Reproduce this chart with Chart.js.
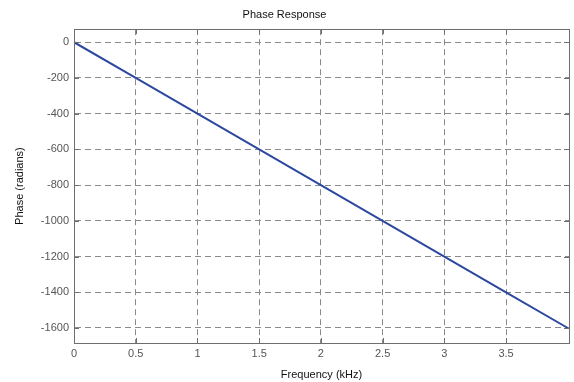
<!DOCTYPE html>
<html>
<head>
<meta charset="utf-8">
<script src="https://cdn.jsdelivr.net/npm/chart.js@4/dist/chart.umd.min.js"></script>
<style>
  html, body { margin: 0; padding: 0; background: #fff; }
  #wrap { width: 574px; height: 382px; }
</style>
</head>
<body>
<div id="wrap"><canvas id="phaseChart" width="574" height="382"></canvas></div>
<script>
// values
const freqKHz = [0, 0.5, 1, 1.5, 2, 2.5, 3, 3.5, 4];
const phaseRad = [0, -200, -400, -600, -800, -1000, -1200, -1400, -1600];
const xTicks = [0, 0.5, 1, 1.5, 2, 2.5, 3, 3.5];
const yTicks = [0, -200, -400, -600, -800, -1000, -1200, -1400, -1600];

const FONT = 'Liberation Sans, Arial, Helvetica, sans-serif';

// box round the plot with small inward ticks, matlab style
const boxPlugin = {
  id: 'boxPlugin',
  afterDatasetsDraw(chart) {
    const { ctx, chartArea: a, scales } = chart;
    ctx.save();
    ctx.strokeStyle = '#6e6e6e';
    ctx.lineWidth = 1;
    ctx.setLineDash([]);
    ctx.beginPath();
    xTicks.forEach(v => {
      const px = Math.round(scales.x.getPixelForValue(v)) + 0.5;
      ctx.moveTo(px, a.bottom); ctx.lineTo(px, a.bottom - 5);
      ctx.moveTo(px, a.top); ctx.lineTo(px, a.top + 5);
    });
    yTicks.forEach(v => {
      const py = Math.round(scales.y.getPixelForValue(v)) + 0.5;
      ctx.moveTo(a.left, py); ctx.lineTo(a.left + 5, py);
      ctx.moveTo(a.right, py); ctx.lineTo(a.right - 5, py);
    });
    ctx.stroke();
    ctx.strokeRect(Math.round(a.left) + 0.5, Math.round(a.top) + 0.5,
      Math.round(a.right - a.left), Math.round(a.bottom - a.top));
    ctx.restore();
  }
};

const ctx = document.getElementById('phaseChart').getContext('2d');
new Chart(ctx, {
  type: 'line',
  data: {
    datasets: [{
      data: freqKHz.map((f, i) => ({ x: f, y: phaseRad[i] })),
      borderColor: '#2c48a0',
      borderWidth: 2,
      pointRadius: 0,
      tension: 0,
      fill: false
    }]
  },
  options: {
    responsive: false,
    animation: false,
    layout: { padding: { left: 0, right: 5, top: 0, bottom: 0 } },
    plugins: {
      legend: { display: false },
      tooltip: { enabled: false },
      title: {
        display: true,
        text: 'Phase Response',
        color: '#111',
        font: { family: FONT, size: 11, weight: 'normal' },
        padding: { top: 8, bottom: 8 }
      }
    },
    scales: {
      x: {
        type: 'linear',
        min: 0,
        max: 4.01,
        afterBuildTicks(scale) { scale.ticks = xTicks.map(v => ({ value: v })); },
        afterFit(scale) { scale.height = 39; },
        ticks: {
          color: '#555',
          padding: 4,
          maxRotation: 0,
          font: { family: FONT, size: 11 },
          callback: v => String(v)
        },
        grid: { color: '#8a8a8a', drawTicks: false, lineWidth: 1 },
        border: { display: true, color: '#6e6e6e', dash: [6, 4] },
        title: {
          display: true,
          text: 'Frequency (kHz)',
          color: '#111',
          font: { family: FONT, size: 11 },
          padding: { top: 0, bottom: 0 }
        }
      },
      y: {
        type: 'linear',
        min: -1684,
        max: 73,
        afterBuildTicks(scale) { scale.ticks = yTicks.map(v => ({ value: v })); },
        afterFit(scale) { scale.width = 74; },
        ticks: {
          color: '#555',
          padding: 5,
          font: { family: FONT, size: 11 },
          callback: v => String(v)
        },
        grid: { color: '#8a8a8a', drawTicks: false, lineWidth: 1 },
        border: { display: true, color: '#6e6e6e', dash: [6, 4] },
        title: {
          display: true,
          text: 'Phase (radians)',
          color: '#111',
          font: { family: FONT, size: 11 },
          padding: { top: 13, bottom: 0 }
        }
      }
    }
  },
  plugins: [boxPlugin]
});
</script>
</body>
</html>
